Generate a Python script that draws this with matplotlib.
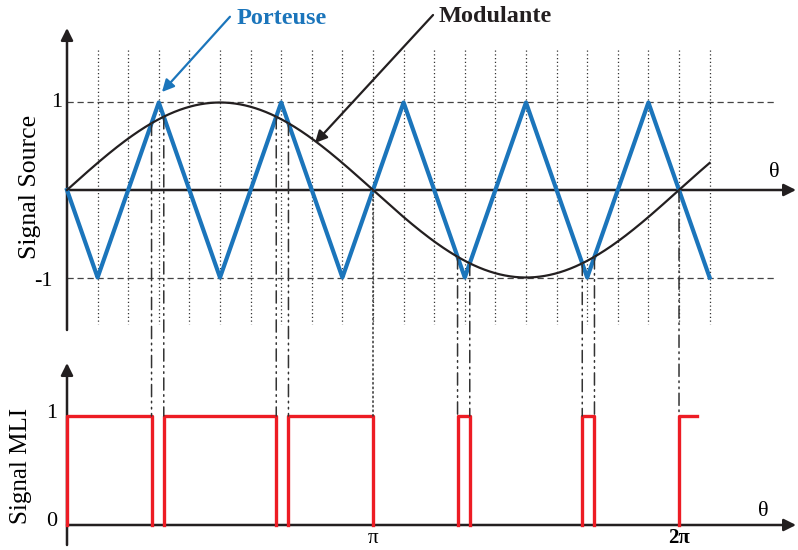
import numpy as np
import matplotlib
matplotlib.use("Agg")
import matplotlib.pyplot as plt
from matplotlib.patches import ConnectionPatch

plt.rcParams["font.family"] = ["Liberation Serif", "DejaVu Serif"]

# --- signals (angles in units of pi) ---
carrier_theta = [0.0, 0.1, 0.3, 0.5, 0.7, 0.9, 1.1, 1.3, 1.5, 1.7, 1.9, 2.1]
carrier_vals = [0, -1, 1, -1, 1, -1, 1, -1, 1, -1, 1, -1]
mod_amplitude = 1.0
mod_end = 2.1          # modulating wave drawn up to 2.1 pi
pwm_end = 2.06         # PWM trace stops here
grid_theta = [0.1 * k for k in range(1, 22)]   # dotted guide lines
level_ticks = [1, -1]
pwm_ticks = [0, 1]

BLUE = "#1b75bb"
RED = "#ed1c24"
INK = "#231f20"

fig = plt.figure(figsize=(7.98, 5.5), dpi=100)

# both axes fill the figure, sharing the same theta scale
px_per_rad = 612 / (2 * np.pi)
xlim = (-67 / px_per_rad, (798 - 67) / px_per_rad)
ax_top = fig.add_axes([0, 0, 1, 1])
ax_bot = fig.add_axes([0, 0, 1, 1])
ax_top.set_xlim(xlim)
ax_bot.set_xlim(xlim)
ax_top.set_ylim((190 - 550) / 87.5, 190 / 87.5)
ax_bot.set_ylim((525 - 550) / 109, 525 / 109)
for ax in (ax_top, ax_bot):
    ax.axis("off")
    ax.patch.set_alpha(0)

theta = np.linspace(0, mod_end * np.pi, 40001)
carrier = np.interp(theta, np.array(carrier_theta) * np.pi, carrier_vals)
modulant = mod_amplitude * np.sin(theta)

# PWM: high where the modulant is above the carrier
mask = theta <= pwm_end * np.pi
high = (modulant - carrier)[mask] > 0
switch_idx = np.flatnonzero(high[1:] != high[:-1])
switches = list(theta[switch_idx + 1])
edges = switches + [pwm_end * np.pi] if len(switches) % 2 else switches
pulses = list(zip(edges[0::2], edges[1::2]))

# --- top panel ---
arrow_kw = dict(arrowstyle="-|>", color=INK, lw=1.8, mutation_scale=18,
                shrinkA=0, shrinkB=0)
ax_top.annotate("", xy=(xlim[1] - 0.02, 0), xytext=(0, 0), arrowprops=arrow_kw)
ax_top.annotate("", xy=(0, (190 - 28) / 87.5), xytext=(0, (190 - 330) / 87.5),
                arrowprops=arrow_kw)

for v in level_ticks:
    ax_top.plot([0, (777 - 67) / px_per_rad], [v, v], color="#444444", lw=0.9,
                ls=(0, (5, 3)), zorder=1)
for g in grid_theta:
    ax_top.plot([g * np.pi, g * np.pi], [1.6, -1.53], color="#333333", lw=0.9,
                ls=(0, (1, 2)), zorder=1)

ax_top.plot(theta, carrier, color=BLUE, lw=3.0, zorder=4)
ax_top.plot(theta, modulant, color=INK, lw=1.6, zorder=5)

ax_top.text(-0.05, 1, "1", fontsize=16, ha="right", va="center")
ax_top.text(-0.15, -1.05, "-1", fontsize=16, ha="right", va="center")
ax_top.text(-0.38, 0.03, "Signal Source", fontsize=18.5, rotation=90,
            ha="center", va="center")
ax_top.text(7.26, 0.2, "θ", fontsize=16, ha="center", va="center")

ax_top.text(1.74, 1.96, "Porteuse", fontsize=17.5, fontweight="bold", color=BLUE,
            ha="left", va="center")
ax_top.annotate("", xy=(0.975, 1.12), xytext=(1.673, 1.98),
                arrowprops=dict(arrowstyle="-|>", color=BLUE, lw=1.6,
                                mutation_scale=18, shrinkA=0, shrinkB=0))
ax_top.text(3.81, 1.98, "Modulante", fontsize=17.5, fontweight="bold", color=INK,
            ha="left", va="center")
ax_top.annotate("", xy=(2.546, 0.537), xytext=(3.758, 2.0),
                arrowprops=dict(arrowstyle="-|>", color=INK, lw=1.6,
                                mutation_scale=18, shrinkA=0, shrinkB=0))

# --- bottom panel ---
ax_bot.annotate("", xy=(xlim[1] - 0.02, 0), xytext=(0, 0), arrowprops=arrow_kw)
ax_bot.annotate("", xy=(0, (525 - 363) / 109), xytext=(0, (525 - 545) / 109),
                arrowprops=arrow_kw)
for a, b in pulses:
    if b >= pwm_end * np.pi - 1e-9:
        ax_bot.plot([a, a, b], [0, 1, 1], color=RED, lw=2.4, zorder=5)
    else:
        ax_bot.plot([a, a, b, b], [0, 1, 1, 0], color=RED, lw=2.4, zorder=5)

ax_bot.text(-0.1, 1.02, "1", fontsize=16, ha="right", va="center")
ax_bot.text(-0.1, 0.03, "0", fontsize=16, ha="right", va="center")
ax_bot.text(-0.47, 0.54, "Signal MLI", fontsize=18, rotation=90,
            ha="center", va="center")
ax_bot.text(7.15, 0.12, "θ", fontsize=16, ha="center", va="center")
ax_bot.text(np.pi, -0.12, "π", fontsize=15, ha="center", va="center")
ax_bot.text(2 * np.pi, -0.12, "2π", fontsize=15, fontweight="bold",
            ha="center", va="center")

# guides from each crossing down to the PWM edges
for s in switches[1:]:
    style = (0, (1, 2)) if abs(s - np.pi) < 0.01 else (0, (8, 3, 1, 3, 1, 3))
    con = ConnectionPatch(xyA=(s, mod_amplitude * np.sin(s)), coordsA=ax_top.transData,
                          xyB=(s, 1), coordsB=ax_bot.transData,
                          color="#333333", lw=1.1, ls=style, zorder=2)
    fig.add_artist(con)

fig.savefig("out.png", dpi=100)
